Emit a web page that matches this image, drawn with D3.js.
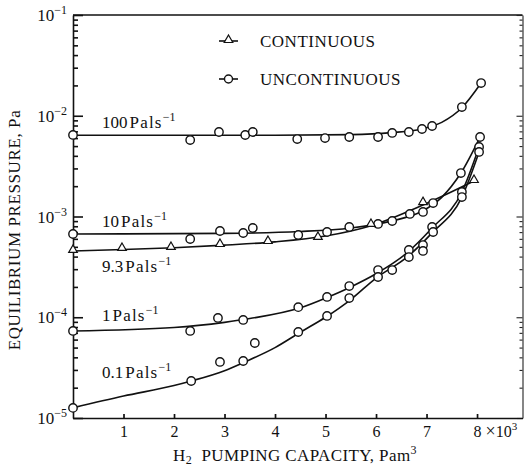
<!DOCTYPE html>
<html>
<head>
<meta charset="utf-8">
<script src="https://cdn.jsdelivr.net/npm/d3@7"></script>
<style>
  body { margin: 0; background: #fff; }
  svg { display: block; font-family: "Liberation Serif", "DejaVu Serif", serif; }
</style>
</head>
<body>
<svg id="chart" width="524" height="468"></svg>
<script>
// tick values
const xTicks = [1, 2, 3, 4, 5, 6, 7, 8];
const yMajor = [1e-5, 1e-4, 1e-3, 1e-2, 1e-1];

// measured points [pumping capacity (x10^3 Pa m3), pressure (Pa)]
const pts100 = [[0, 6.45e-3], [2.32, 5.74e-3], [2.89, 6.9e-3], [3.41, 6.44e-3], [3.56, 6.9e-3], [4.44, 5.87e-3],
  [4.99, 6.0e-3], [5.47, 6.15e-3], [6.04, 6.15e-3], [6.32, 6.75e-3], [6.65, 6.9e-3], [6.91, 7.39e-3],
  [7.11, 7.91e-3], [7.7, 1.22e-2], [8.08, 2.11e-2]];
const pts10 = [[0, 6.7e-4], [2.32, 5.98e-4], [2.91, 7.18e-4], [3.37, 6.86e-4], [3.56, 7.69e-4], [4.46, 6.55e-4],
  [5.03, 7.02e-4], [5.47, 7.87e-4], [6.04, 8.43e-4], [6.32, 9.02e-4], [6.67, 1.06e-3], [6.93, 1.11e-3],
  [7.13, 1.36e-3], [7.68, 2.7e-3], [8.06, 6.15e-3]];
const pts93 = [[0, 4.55e-4], [0.97, 4.76e-4], [1.94, 4.87e-4], [2.91, 5.21e-4], [3.86, 5.58e-4], [4.85, 6.12e-4],
  [5.9, 8.24e-4], [6.93, 1.36e-3], [7.94, 2.25e-3]];
const pts1 = [[0, 7.31e-5], [2.32, 7.31e-5], [2.87, 9.84e-5], [3.37, 9.4e-5], [4.46, 1.26e-4], [5.03, 1.59e-4],
  [5.47, 2.04e-4], [6.04, 2.94e-4], [6.32, 2.94e-4], [6.65, 4.65e-4], [7.11, 7.87e-4], [7.7, 1.75e-3],
  [8.04, 4.9e-3]];
const pts01 = [[0, 1.26e-5], [2.34, 2.33e-5], [2.91, 3.6e-5], [3.37, 3.68e-5], [3.6, 5.55e-5], [4.46, 7.14e-5],
  [5.03, 1.03e-4], [5.47, 1.55e-4], [6.04, 2.51e-4], [6.65, 3.96e-4], [6.93, 5.21e-4], [6.93, 4.55e-4],
  [7.13, 7.02e-4], [7.7, 1.56e-3], [8.04, 4.37e-3]];

// fitted curves
const fit100 = [[0, 6.4e-3], [2, 6.4e-3], [4, 6.4e-3], [5.5, 6.5e-3], [6.3, 6.8e-3], [6.9, 7.4e-3], [7.3, 8.6e-3],
  [7.7, 1.2e-2], [8.08, 2.11e-2]];
const fit10 = [[0, 6.7e-4], [3, 6.8e-4], [4.5, 7.1e-4], [5.5, 7.7e-4], [6.3, 9.0e-4], [6.9, 1.12e-3],
  [7.3, 1.55e-3], [7.68, 2.7e-3], [8.06, 6.15e-3]];
const fit93 = [[0, 4.55e-4], [1, 4.7e-4], [2, 4.9e-4], [3, 5.2e-4], [4, 5.6e-4], [5, 6.4e-4], [5.9, 8.1e-4],
  [6.93, 1.3e-3], [7.94, 2.25e-3]];
const fit1 = [[0, 7.3e-5], [2, 7.9e-5], [3, 8.9e-5], [3.5, 9.7e-5], [4.5, 1.24e-4], [5, 1.55e-4], [5.5, 2.0e-4],
  [6, 2.7e-4], [6.6, 4.3e-4], [7.1, 7.6e-4], [7.7, 1.75e-3], [8.04, 4.9e-3]];
const fit01 = [[0, 1.26e-5], [1, 1.65e-5], [2, 2.1e-5], [2.34, 2.33e-5], [3, 2.95e-5], [3.4, 3.6e-5], [4, 5.0e-5],
  [4.5, 7.1e-5], [5, 1.0e-4], [5.5, 1.5e-4], [6, 2.45e-4], [6.6, 3.9e-4], [7.1, 6.8e-4], [7.7, 1.56e-3],
  [8.04, 4.37e-3]];

const curveNames = ["100", "10", "9.3", "1", "0.1"];
const legendNames = ["CONTINUOUS", "UNCONTINUOUS"];

const curves = [
  { name: curveNames[0], pts: pts100, fit: fit100, mark: "circle" },
  { name: curveNames[1], pts: pts10, fit: fit10, mark: "circle" },
  { name: curveNames[2], pts: pts93, fit: fit93, mark: "triangle" },
  { name: curveNames[3], pts: pts1, fit: fit1, mark: "circle" },
  { name: curveNames[4], pts: pts01, fit: fit01, mark: "circle" }
];

const svg = d3.select("#chart");
const plotL = 73, plotR = 522.5, plotT = 15, plotB = 418;

const x = d3.scaleLinear().domain([0, 8.9]).range([plotL, plotR]);
const y = d3.scaleLog().domain([1e-5, 1e-1]).range([plotB, plotT]);

const yMinor = [];
yMajor.slice(0, -1).forEach(p => { for (let k = 2; k < 10; k++) yMinor.push(p * k); });

// frame top line
svg.append("line")
  .attr("x1", plotL).attr("x2", plotR).attr("y1", plotT).attr("y2", plotT)
  .attr("stroke", "#111").attr("stroke-width", 1.7);

// left axis
const gl = svg.append("g").attr("transform", `translate(${plotL},0)`);
gl.call(d3.axisLeft(y).tickValues(yMajor).tickSize(-10).tickSizeOuter(0).tickFormat(""));
gl.append("g").call(d3.axisLeft(y).tickValues(yMinor).tickSize(-5).tickFormat(""))
  .select(".domain").remove();
gl.selectAll("path,line").attr("stroke", "#111").attr("stroke-width", 1.6);

// right axis (ticks only, near the edge)
const gr = svg.append("g").attr("transform", `translate(${plotR},0)`);
gr.call(d3.axisRight(y).tickValues(yMajor).tickSize(-6).tickSizeOuter(0).tickFormat(""));
gr.append("g").call(d3.axisRight(y).tickValues(yMinor).tickSize(-3).tickFormat(""))
  .select(".domain").remove();
gr.selectAll("path,line").attr("stroke", "#222").attr("stroke-width", 1.1);

// y tick labels 10^-n
yMajor.forEach(v => {
  const t = svg.append("text")
    .attr("x", 67).attr("y", y(v) + 6)
    .attr("text-anchor", "end")
    .attr("font-size", 17).attr("fill", "#111");
  t.append("tspan").text("10");
  t.append("tspan").attr("dy", -7).attr("font-size", 12)
    .text("\u2212" + Math.round(-Math.log10(v)));
});

// bottom axis
const gb = svg.append("g").attr("transform", `translate(0,${plotB})`);
gb.call(d3.axisBottom(x).tickValues(xTicks).tickSize(-4).tickSizeOuter(0));
gb.selectAll("path,line").attr("stroke", "#111").attr("stroke-width", 1.7);
gb.attr("font-family", null).attr("font-size", 16);
gb.selectAll(".tick text").attr("y", 19).attr("dy", 0).attr("fill", "#111");
gb.selectAll(".tick text").filter(d => d === 8)
  .attr("text-anchor", "start").attr("x", -4)
  .text(null)
  .call(t => {
    t.append("tspan").text("8 ");
    t.append("tspan").attr("font-size", 18).text("\u00d7");
    t.append("tspan").text("10");
    t.append("tspan").attr("dy", -7).attr("font-size", 11).text("3");
  });

// axis titles
const xt = svg.append("text")
  .attr("x", 173).attr("y", 461)
  .attr("font-size", 17).attr("letter-spacing", 0.4).attr("fill", "#111");
xt.append("tspan").text("H");
xt.append("tspan").attr("font-size", 12).attr("dy", 2.5).text("2");
xt.append("tspan").attr("dy", -2.5).text("\u00a0 PUMPING CAPACITY, Pam");
xt.append("tspan").attr("font-size", 12).attr("dy", -7).text("3");

svg.append("text")
  .attr("transform", "translate(20,230) rotate(-90)")
  .attr("text-anchor", "middle")
  .attr("font-size", 17).attr("letter-spacing", 0.6).attr("fill", "#111")
  .text("EQUILIBRIUM PRESSURE, Pa");

// curves
const line = d3.line()
  .x(d => x(d[0])).y(d => y(d[1]))
  .curve(d3.curveMonotoneX);

const tri = d3.symbol().type(d3.symbolTriangle).size(32);

curves.forEach(c => {
  svg.append("path")
    .datum(c.fit)
    .attr("d", line)
    .attr("fill", "none").attr("stroke", "#111").attr("stroke-width", 1.6);
});

curves.forEach(c => {
  const g = svg.append("g");
  if (c.mark === "circle") {
    g.selectAll("circle").data(c.pts).join("circle")
      .attr("cx", d => x(d[0])).attr("cy", d => y(d[1])).attr("r", 4.2)
      .attr("fill", "#fff").attr("stroke", "#111").attr("stroke-width", 1.4);
  } else {
    g.selectAll("path").data(c.pts).join("path")
      .attr("d", tri)
      .attr("transform", d => `translate(${x(d[0])},${y(d[1]) - 1})`)
      .attr("fill", "#fff").attr("stroke", "#111").attr("stroke-width", 1.2);
  }
});

// curve labels
const labelBase = [128, 227, 272, 321, 378];
curves.forEach((c, i) => {
  const t = svg.append("text")
    .attr("x", 102).attr("y", labelBase[i])
    .attr("font-size", 17).attr("fill", "#111");
  t.append("tspan").text(c.name);
  t.append("tspan").attr("dx", 2).attr("letter-spacing", 1.2).text("Pals");
  t.append("tspan").attr("dy", -7).attr("font-size", 12).text("\u22121");
});

// legend
const legend = svg.append("g");
legendNames.forEach((name, i) => {
  const ly = [41, 79][i];
  legend.append("line")
    .attr("x1", 219).attr("x2", 238).attr("y1", ly).attr("y2", ly)
    .attr("stroke", "#111").attr("stroke-width", 1.6);
  if (i === 0) {
    legend.append("path").attr("d", tri)
      .attr("transform", `translate(228.5,${ly - 1})`)
      .attr("fill", "#fff").attr("stroke", "#111").attr("stroke-width", 1.2);
  } else {
    legend.append("circle").attr("cx", 228.5).attr("cy", ly).attr("r", 4)
      .attr("fill", "#fff").attr("stroke", "#111").attr("stroke-width", 1.4);
  }
  legend.append("text")
    .attr("x", 260).attr("y", ly + 6)
    .attr("font-size", 17).attr("letter-spacing", 0.5).attr("fill", "#111")
    .text(name);
});
</script>
</body>
</html>
